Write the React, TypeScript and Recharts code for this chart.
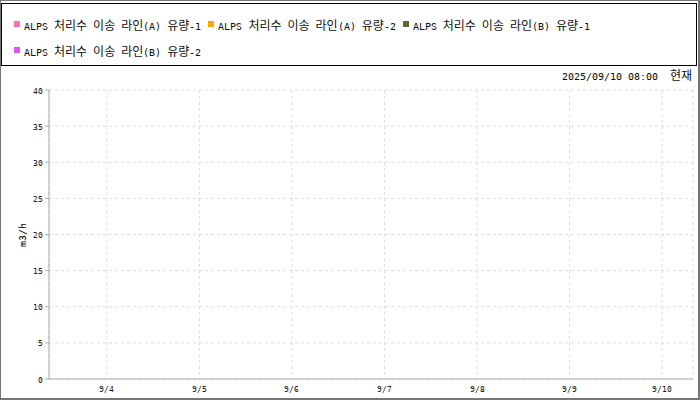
import { CartesianGrid, Label, Line, LineChart, XAxis, YAxis } from "recharts";

// sample times, hours counted from 9/3 00:00 (first: 9/3 09:00, last: 9/10 08:00)
const sampleHours = [9, 176];

// series values (no readings in the reference period)
const flowA1: (number | null)[] = [null, null];
const flowA2: (number | null)[] = [null, null];
const flowB1: (number | null)[] = [null, null];
const flowB2: (number | null)[] = [null, null];

const seriesNames = [
  "ALPS 처리수 이송 라인(A) 유량-1",
  "ALPS 처리수 이송 라인(A) 유량-2",
  "ALPS 처리수 이송 라인(B) 유량-1",
  "ALPS 처리수 이송 라인(B) 유량-2",
];
const seriesKeys = ["a1", "a2", "b1", "b2"];
const seriesColors = ["#ff6eb4", "#ffa500", "#556b2f", "#dd55ee"];

const xTickHours = [24, 48, 72, 96, 120, 144, 168];
const xTickLabels = ["9/4", "9/5", "9/6", "9/7", "9/8", "9/9", "9/10"];
const yTicks = [0, 5, 10, 15, 20, 25, 30, 35, 40];

const timestampText = "2025/09/10 08:00  현재";
const unitText = "m3/h";

const data = sampleHours.map((hour, i) => ({
  hour,
  a1: flowA1[i],
  a2: flowA2[i],
  b1: flowB1[i],
  b2: flowB2[i],
}));

const fontFace = `
@font-face {
  font-family: "RefLatin";
  src: local("DejaVu Sans Mono"), local("DejaVuSansMono");
  size-adjust: 83%;
  unicode-range: U+0000-024F;
}
`;
const font = '"RefLatin", "Noto Sans CJK KR", sans-serif';

const tickStyle = { fontSize: 10, fill: "#222", fontFamily: font };

const App = () => {
  return (
    <div style={{ position: "fixed", left: 0, top: 0, width: 700, height: 400, background: "#fff" }}>
      <style>{fontFace}</style>
      <div
        style={{
          position: "absolute",
          inset: 0,
          borderStyle: "solid",
          borderColor: "#777",
          borderWidth: "1px 2px 2px 1px",
        }}
      />
      <div
        style={{
          position: "absolute",
          left: 1,
          top: 3,
          width: 696,
          height: 63,
          boxSizing: "border-box",
          border: "1px solid #000",
          padding: "9px 0 0 12px",
          display: "flex",
          flexWrap: "wrap",
          fontFamily: font,
          fontSize: 12,
          color: "#111",
        }}
      >
        {seriesNames.map((name, i) => (
          <div key={name} style={{ display: "flex", alignItems: "center", height: 22, marginRight: 7 }}>
            <span style={{ width: 6, height: 6, background: seriesColors[i], marginRight: 4 }} />
            <span style={{ whiteSpace: "pre" }}>{name}</span>
          </div>
        ))}
      </div>
      <div
        style={{
          position: "absolute",
          right: 8,
          top: 69,
          fontFamily: font,
          fontSize: 12,
          color: "#111",
          whiteSpace: "pre",
          lineHeight: "16px",
        }}
      >
        {timestampText}
      </div>
      <div style={{ position: "absolute", left: 0, top: 0 }}>
        <LineChart width={700} height={400} data={data} margin={{ top: 90, right: 7, bottom: 0, left: 0 }}>
          <CartesianGrid stroke="#ddd" strokeDasharray="3 3" />
          <XAxis
            type="number"
            dataKey="hour"
            domain={[9, 176]}
            ticks={xTickHours}
            tickFormatter={(v: number) => xTickLabels[xTickHours.indexOf(v)] ?? ""}
            allowDataOverflow
            height={21}
            stroke="#aaa"
            tickLine={false}
            tickSize={4}
            tick={tickStyle}
          />
          <YAxis
            domain={[0, 40]}
            ticks={yTicks}
            allowDataOverflow
            width={49}
            stroke="#aaa"
            tickSize={4}
            tick={tickStyle}
          >
            <Label
              value={unitText}
              angle={-90}
              position="center"
              dx={-3}
              style={{ fontSize: 12, fill: "#111", fontFamily: font }}
            />
          </YAxis>
          {seriesKeys.map((key, i) => (
            <Line
              key={key}
              type="linear"
              dataKey={key}
              name={seriesNames[i]}
              stroke={seriesColors[i]}
              dot={false}
              isAnimationActive={false}
            />
          ))}
        </LineChart>
      </div>
    </div>
  );
};

export default App;
